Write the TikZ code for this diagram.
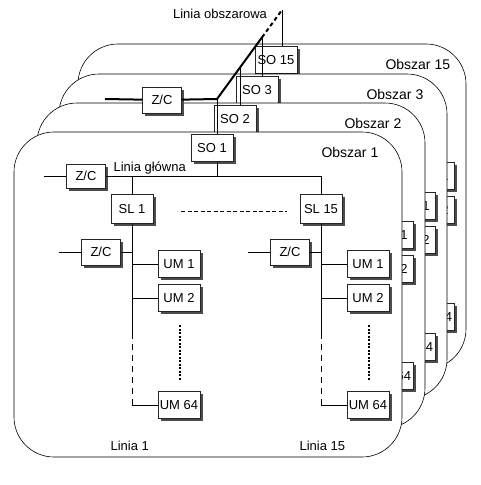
\documentclass[tikz,border=0pt]{standalone}
\usepackage{fontspec}
\setmainfont{Liberation Sans}
\usetikzlibrary{shadows}

\tikzset{
  blok/.style={draw=black!85, fill=white, line width=0.5pt, minimum width=42pt,
    minimum height=27pt, inner sep=1pt,
    drop shadow={shadow xshift=2.5pt, shadow yshift=-2.5pt, fill=black!70, opacity=1}},
  zc/.style={minimum width=39pt, minimum height=24pt},
  obszar/.style={draw, fill=white, rounded corners=40pt, line width=0.6pt},
  napis/.style={anchor=base west, font=\fontsize{14}{16}\selectfont},
  linia/.style={line width=0.8pt},
  gruba/.style={line width=2pt},
  przerywana/.style={line width=0.8pt, dash pattern=on 6pt off 5pt},
  kreski/.style={line width=1pt, dash pattern=on 4pt off 2.5pt},
  kropki/.style={line width=1.3pt, dash pattern=on 2pt off 1.5pt},
}

\begin{document}
\begin{tikzpicture}[x=1pt, y=-1pt, font=\fontsize{13}{15}\selectfont]
\useasboundingbox (0,0) rectangle (481,485);

% tylne obszary: widac tylko gore i prawy brzeg
\foreach \k/\dx/\dy in {15/64/88, 3/45/58, 2/23/29} {
  \begin{scope}[shift={(\dx,-\dy)}]
    \draw[obszar] (14,132) rectangle (402,457);
    \node[napis] (napis\k) at (318,157) {Obszar \k};
    \node[blok] (so\k) at (212,148) {SO \k};
    \node[blok] (um\k-1) at (369,264) {UM 1};
    \node[blok] (um\k-2) at (369,298) {UM 2};
    \node[blok] (um\k-64) at (369,405) {UM 64};
  \end{scope}
}

% obszar 1
\draw[obszar] (14,132) rectangle (402,457);
\node[napis] (napis1) at (318,157) {Obszar 1};
\node[blok] (so1) at (212,148) {SO 1};

% linia glowna
\node[blok, zc] (zc1) at (86,176) {Z/C};
\coordinate (wej) at (44,176);
\coordinate (w) at (217,176);
\coordinate (kon) at (321,176);
\draw[linia] (wej) -- (zc1) -- (kon);
\draw[linia] (w) -- (w |- so1.south);
\node[anchor=base west] (glowna) at (110,171) {Linia główna};

% linie 1 i 15
\foreach \l/\sx in {1/0, 15/189} {
  \begin{scope}[shift={(\sx,0)}]
    \node[blok, minimum height=29pt] (sl\l) at (132,209) {SL \l};
    \draw[linia] (sl\l.north) -- (sl\l.north |- w);
    \node[blok, zc, minimum height=26pt] (zl\l) at (101,252) {Z/C};
    \coordinate (zw\l) at (59,252);
    \coordinate (zp\l) at (132,252);
    \draw[linia] (zw\l) -- (zl\l) -- (zp\l);
    \node[blok] (um\l-1) at (179,264) {UM 1};
    \node[blok] (um\l-2) at (179,298) {UM 2};
    \node[blok] (um\l-64) at (179,405) {UM 64};
    \coordinate (g\l) at (132,333);
    \coordinate (d\l) at (132,405);
    \draw[linia] (sl\l.south) -- (g\l);
    \draw[przerywana] (g\l) -- (d\l);
    \draw[linia] (d\l) -- (um\l-64);
    \draw[linia] (um\l-1 -| d\l) -- (um\l-1);
    \draw[linia] (um\l-2 -| d\l) -- (um\l-2);
    \coordinate (kg\l) at (180,325);
    \coordinate (kd\l) at (180,381);
    \draw[kropki] (kg\l) -- (kd\l);
    \node[anchor=west] (opis\l) at (107,446) {Linia \l};
  \end{scope}
}
\coordinate (p) at (181,211);
\coordinate (q) at (287,211);
\draw[kreski] (p) -- (q);

% linia obszarowa
\node[blok, zc, minimum height=26pt] (zco) at (162,100) {Z/C};
\coordinate (lewy) at (105,99);
\coordinate (s1) at (217,99);
\coordinate (s2) at (240,67.5);
\coordinate (s3) at (262,37.4);
\coordinate (s15) at (282,10);
\draw[gruba] (lewy) -- (zco) -- (s1) -- (s3);
\draw[gruba, dash pattern=on 4pt off 3pt] (s3) -- (s15);
\draw[linia] (s1) -- (s1 |- so1.north);
\draw[linia] (s2) -- (s2 |- so2.north);
\draw[linia] (s3) -- (s3 |- so3.north);
\draw[linia] (s15) -- (s15 |- so15.north);
\node (obsz) at (220,14) {Linia obszarowa};
\end{tikzpicture}
\end{document}
